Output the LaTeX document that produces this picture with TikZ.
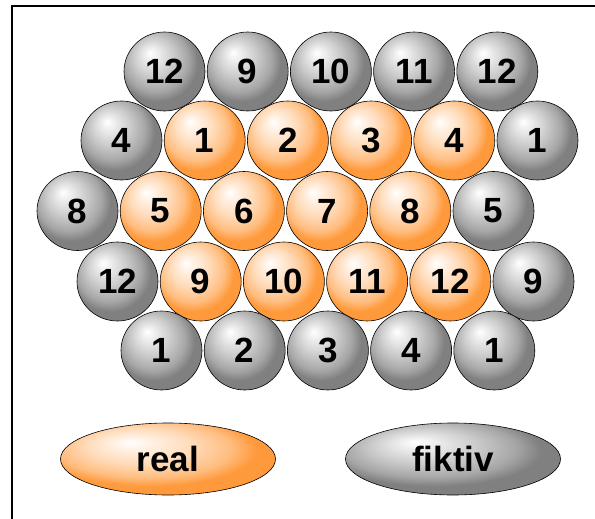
\documentclass[tikz,border=0pt]{standalone}
\usepackage{fontspec}
\setmainfont{Liberation Sans}
\usetikzlibrary{shapes.geometric}
\definecolor{orangeA}{HTML}{FF9A3C}
\definecolor{grauA}{HTML}{808080}
% Kugel-Schattierungen, Glanzpunkt oben links (Rand bei 25bp)
\pgfdeclareradialshading{orangekugel}{\pgfpoint{-9bp}{12bp}}{%
  color(0bp)=(white); color(3bp)=(orangeA!10!white);
  color(12bp)=(orangeA!35!white); color(20bp)=(orangeA!65!white);
  color(25bp)=(orangeA); color(50bp)=(orangeA)}
\pgfdeclareradialshading{graukugel}{\pgfpoint{-9bp}{12bp}}{%
  color(0bp)=(white); color(3bp)=(grauA!10!white);
  color(12bp)=(grauA!40!white); color(20bp)=(grauA!70!white);
  color(25bp)=(grauA); color(50bp)=(grauA)}

\begin{document}
\begin{tikzpicture}[x=1pt, y=-1pt,
    kugel/.style={ellipse, draw, line width=0.6pt, inner sep=0pt,
      minimum width=81pt, minimum height=79pt,
      font=\fontsize{35}{40}\selectfont\bfseries},
    realkugel/.style={kugel, shading=orangekugel},
    fiktivkugel/.style={kugel, shading=graukugel},
    legende/.style={kugel, minimum width=215pt, minimum height=72pt}]
  \useasboundingbox (0,0) rectangle (595,519);
  % Rahmen
  \draw[line width=2pt] (12,519) -- (12,6) -- (595,6);
  % Reihe 1
  \foreach \n [count=\i] in {12,9,10,11,12}
    \node[fiktivkugel] (a\i) at ({164.5+(\i-1)*83.2},71.5) {\n};
  % Reihe 2
  \node[fiktivkugel] (b1) at (121.5,140.5) {4};
  \foreach \n [count=\i from 2] in {1,2,3,4}
    \node[realkugel] (b\i) at ({121.5+(\i-1)*83.2},140.5) {\n};
  \node[fiktivkugel] (b6) at ({121.5+5*83.2},140.5) {1};
  % Reihe 3
  \node[fiktivkugel] (c1) at (77.5,211) {8};
  \foreach \n [count=\i from 2] in {5,6,7,8}
    \node[realkugel] (c\i) at ({77.5+(\i-1)*83.2},211) {\n};
  \node[fiktivkugel] (c6) at ({77.5+5*83.2},211) {5};
  % Reihe 4
  \node[fiktivkugel] (d1) at (117.5,281.5) {12};
  \foreach \n [count=\i from 2] in {9,10,11,12}
    \node[realkugel] (d\i) at ({117.5+(\i-1)*83.2},281.5) {\n};
  \node[fiktivkugel] (d6) at ({117.5+5*83.2},281.5) {9};
  % Reihe 5
  \foreach \n [count=\i] in {1,2,3,4,1}
    \node[fiktivkugel] (e\i) at ({161.5+(\i-1)*83.2},350.5) {\n};
  % Legende
  \node[legende, shading=orangekugel] (real) at (168,459) {real};
  \node[legende, shading=graukugel] (fiktiv) at (453,459) {fiktiv};
\end{tikzpicture}
\end{document}
